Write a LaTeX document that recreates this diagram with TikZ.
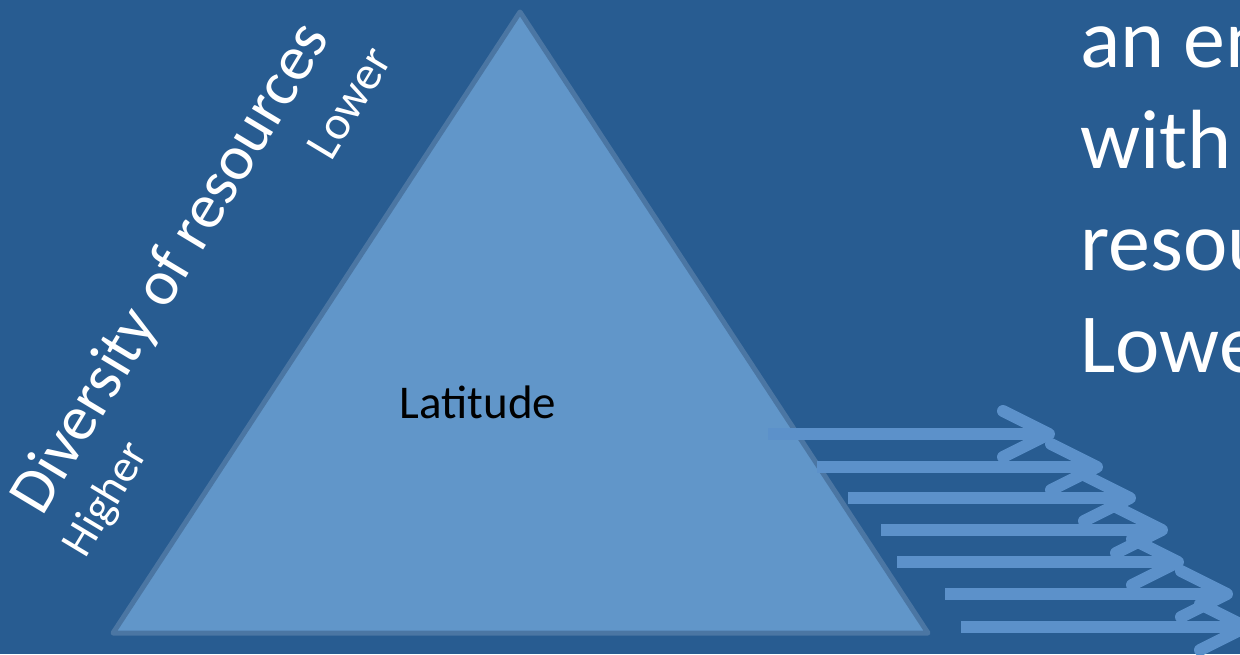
\documentclass[tikz,border=0pt]{standalone}
\usepackage{fontspec}
\setmainfont{Carlito}
\usetikzlibrary{positioning, arrows.meta}
\definecolor{slideblue}{HTML}{285C91}
\definecolor{trifill}{HTML}{6196C9}
\definecolor{triedge}{HTML}{4B76A3}
\definecolor{arrowblue}{HTML}{5C91CA}

\begin{document}
\begin{tikzpicture}[
    x=0.5pt, y=-0.5pt,
    tri_shape/.style={fill=trifill, draw=triedge, line width=2.5pt, line join=round},
    side_txt/.style={text=white, inner sep=0pt, rotate=59, font=\fontsize{23}{27}\selectfont},
    big_txt/.style={text=white, inner sep=0pt, anchor=base west, font=\fontsize{42}{50}\selectfont},
    flow_arrow/.style={draw=arrowblue, line width=6pt, -{Straight Barb[length=23pt, width=23pt, line cap=round, line join=round]}}
  ]
    \clip (0,0) rectangle (1240,654);
    \fill[slideblue] (0,0) rectangle (1240,654);

    \coordinate (apex) at (520,12);
    \coordinate (bl) at (113,633);
    \coordinate (br) at (928,633);
    \draw[tri_shape] (bl) -- (apex) -- (br) -- cycle;

    \node[inner sep=0pt, font=\fontsize{23.5}{27}\selectfont] (lat) at (478,402) {Latitude};

    \node[side_txt, font=\fontsize{32}{36}\selectfont] (div) at (172,269) {Diversity of resources};
    \node[side_txt, font=\fontsize{24}{28}\selectfont] (low) at (349,103) {Lower};
    \node[side_txt] (high) at (107,500) {Higher};

    \node[big_txt] (t1) at (1080,67) {an en};
    \node[big_txt] (t2) at (1080,168) {with};
    \node[big_txt] (t3) at (1080,270) {resou};
    \node[big_txt] (t4) at (1080,372) {Lowe};

    \foreach \xs/\yy/\xe [count=\k] in {768/434/1055, 817/467/1103, 848/498/1136,
        881/530/1168, 897/562/1184, 945/594/1233, 961/627/1252} {
      \coordinate (s\k) at (\xs,\yy);
      \coordinate (e\k) at (\xe,\yy);
      \draw[flow_arrow] (s\k) -- (e\k);
    }
  \end{tikzpicture}
\end{document}
